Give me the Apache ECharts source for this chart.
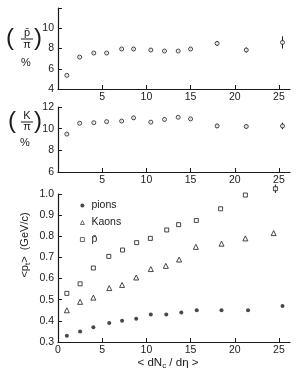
<!DOCTYPE html>
<html>
<head>
<meta charset="utf-8">
<script src="https://cdn.jsdelivr.net/npm/echarts@6/dist/echarts.min.js"></script>
<style>html,body{margin:0;padding:0;background:#fff}#c{width:301px;height:376px}</style>
</head>
<body>
<div id="c"></div>
<script>
// ---- data ----
const ratioX   = [1.0, 2.45, 4.05, 5.5, 7.2, 8.55, 10.5, 12.05, 13.6, 15.0, 18.0, 21.3, 25.4];
const pbarPi   = [5.35, 7.15, 7.55, 7.55, 7.95, 7.95, 7.85, 7.75, 7.75, 7.95, 8.5, 7.85, 8.6];
const pbarPiErr= [0.1, 0.1, 0.1, 0.1, 0.1, 0.15, 0.15, 0.1, 0.1, 0.1, 0.25, 0.25, 0.6];
const kPi      = [9.5, 10.5, 10.55, 10.65, 10.7, 11.0, 10.6, 10.85, 11.05, 10.9, 10.25, 10.2, 10.25];
const kPiErr   = [0.1, 0.1, 0.1, 0.1, 0.1, 0.15, 0.1, 0.1, 0.1, 0.1, 0.2, 0.2, 0.3];
const pionX    = [1.0, 2.5, 4.0, 5.8, 7.25, 8.85, 10.5, 12.25, 13.95, 15.7, 18.5, 21.5, 25.4];
const pionPt   = [0.33, 0.35, 0.37, 0.39, 0.40, 0.41, 0.43, 0.43, 0.44, 0.45, 0.45, 0.45, 0.47];
const kaonX    = [1.0, 2.5, 4.0, 5.8, 7.25, 8.85, 10.5, 12.2, 13.7, 15.6, 18.5, 21.2, 24.4];
const kaonPt   = [0.45, 0.49, 0.51, 0.555, 0.57, 0.605, 0.645, 0.66, 0.69, 0.75, 0.765, 0.79, 0.815];
const pbarX    = [1.0, 2.5, 4.0, 5.75, 7.3, 8.9, 10.45, 12.3, 13.65, 15.65, 18.4, 21.2, 24.6];
const pbarPt   = [0.53, 0.575, 0.65, 0.705, 0.735, 0.77, 0.79, 0.83, 0.855, 0.875, 0.93, 0.995, 1.025];
const pbarPtErr= [0, 0, 0, 0, 0, 0, 0, 0, 0, 0, 0, 0, 0.02];
const xTicks   = [5, 10, 15, 20, 25];
const xTicksB  = [0, 5, 10, 15, 20, 25];
const yTicksTop= [4, 6, 8, 10];
const yTicksMid= [6, 8, 10, 12];

const zip = (a, b) => a.map((v, i) => [v, b[i]]);
const zip3 = (a, b, c) => a.map((v, i) => [v, b[i], c[i]]);

const INK = '#1a1a1a';
const FONT = 'Liberation Sans';
const lab = { color: INK, fontSize: 10.5, fontFamily: FONT };

function xAxis(gi, labels) {
  return {
    type: 'value', gridIndex: gi, min: 0, max: 26.25, interval: 5,
    axisLine: { lineStyle: { color: INK, width: 1.2 } },
    axisTick: { inside: true, length: 4, customValues: xTicks, lineStyle: { color: INK } },
    axisLabel: Object.assign({ margin: 3, customValues: labels }, lab),
    splitLine: { show: false }
  };
}
function yAxis(gi, min, max, interval, labels, fmt) {
  return {
    type: 'value', gridIndex: gi, min, max, interval,
    axisLine: { show: true, lineStyle: { color: INK, width: 1.2 } },
    axisTick: { show: true, inside: true, length: 4, lineStyle: { color: INK } },
    axisLabel: Object.assign({ margin: 4, customValues: labels, formatter: fmt }, lab),
    splitLine: { show: false }
  };
}
function errBars(xi, yi, data) {
  return {
    type: 'custom', xAxisIndex: xi, yAxisIndex: yi, data, silent: true, z: 1,
    renderItem(params, api) {
      const x = api.value(0), y = api.value(1), e = api.value(2);
      if (!e) return null;
      const a = api.coord([x, y + e]), b = api.coord([x, y - e]);
      return { type: 'line', shape: { x1: a[0], y1: a[1], x2: b[0], y2: b[1] },
               style: { stroke: INK, lineWidth: 1 } };
    }
  };
}

const chart = echarts.init(document.getElementById('c'));
chart.setOption({
  animation: false,
  backgroundColor: '#fff',
  grid: [
    { left: 58, top: 8, width: 232, height: 81 },
    { left: 58, top: 107, width: 232, height: 65 },
    { left: 58, top: 194, width: 232, height: 148 }
  ],
  xAxis: [xAxis(0, xTicks), xAxis(1, xTicks), xAxis(2, xTicksB)],
  yAxis: [
    yAxis(0, 4, 12, 2, yTicksTop, v => String(v)),
    yAxis(1, 6, 12, 2, yTicksMid, v => String(v)),
    yAxis(2, 0.3, 1.0, 0.1, null, v => v.toFixed(1))
  ],
  legend: {
    orient: 'vertical', left: 75, top: 195, itemGap: 6, itemWidth: 4, itemHeight: 4,
    textStyle: { color: INK, fontSize: 10.5, fontFamily: FONT, padding: [0, 0, 0, 2] },
    data: [
      { name: 'pions', icon: 'circle', itemStyle: { color: INK } },
      { name: 'Kaons', icon: 'triangle', itemStyle: { color: '#fff', borderColor: INK, borderWidth: 0.8 } },
      { name: 'p\u0304', icon: 'rect', itemStyle: { color: '#fff', borderColor: INK, borderWidth: 0.8 } }
    ]
  },
  series: [
    errBars(0, 0, zip3(ratioX, pbarPi, pbarPiErr)),
    { type: 'scatter', xAxisIndex: 0, yAxisIndex: 0, data: zip(ratioX, pbarPi), symbol: 'circle', symbolSize: 4,
      itemStyle: { color: '#fff', borderColor: INK, borderWidth: 1 }, z: 2 },
    errBars(1, 1, zip3(ratioX, kPi, kPiErr)),
    { type: 'scatter', xAxisIndex: 1, yAxisIndex: 1, data: zip(ratioX, kPi), symbol: 'circle', symbolSize: 4,
      itemStyle: { color: '#fff', borderColor: INK, borderWidth: 1 }, z: 2 },
    { name: 'pions', type: 'scatter', xAxisIndex: 2, yAxisIndex: 2, data: zip(pionX, pionPt), symbol: 'circle', symbolSize: 4,
      itemStyle: { color: INK } },
    { name: 'Kaons', type: 'scatter', xAxisIndex: 2, yAxisIndex: 2, data: zip(kaonX, kaonPt), symbol: 'triangle', symbolSize: 5,
      itemStyle: { color: '#fff', borderColor: INK, borderWidth: 1 } },
    errBars(2, 2, zip3(pbarX, pbarPt, pbarPtErr)),
    { name: 'p\u0304', type: 'scatter', xAxisIndex: 2, yAxisIndex: 2, data: zip(pbarX, pbarPt), symbol: 'rect', symbolSize: 4,
      clip: false, itemStyle: { color: '#fff', borderColor: INK, borderWidth: 1 }, z: 2 }
  ],
  graphic: [
    // top y title (p̄/π) %
    { type: 'text', x: 10, y: 38, style: { text: '(', fontSize: 24, fill: INK, fontFamily: FONT, align: 'center', verticalAlign: 'middle' } },
    { type: 'text', x: 27, y: 33, style: { text: 'p\u0304', fontSize: 11, fill: INK, fontFamily: FONT, align: 'center', verticalAlign: 'middle' } },
    { type: 'line', shape: { x1: 21, y1: 39, x2: 33, y2: 39 }, style: { stroke: INK, lineWidth: 1 } },
    { type: 'text', x: 27, y: 45, style: { text: '\u03c0', fontSize: 11, fill: INK, fontFamily: FONT, align: 'center', verticalAlign: 'middle' } },
    { type: 'text', x: 38, y: 38, style: { text: ')', fontSize: 24, fill: INK, fontFamily: FONT, align: 'center', verticalAlign: 'middle' } },
    { type: 'text', x: 26, y: 63, style: { text: '%', fontSize: 11, fill: INK, fontFamily: FONT, align: 'center', verticalAlign: 'middle' } },
    // middle y title (K/π) %
    { type: 'text', x: 12, y: 121, style: { text: '(', fontSize: 24, fill: INK, fontFamily: FONT, align: 'center', verticalAlign: 'middle' } },
    { type: 'text', x: 27, y: 116, style: { text: 'K', fontSize: 11, fill: INK, fontFamily: FONT, align: 'center', verticalAlign: 'middle' } },
    { type: 'line', shape: { x1: 21, y1: 122, x2: 33, y2: 122 }, style: { stroke: INK, lineWidth: 1 } },
    { type: 'text', x: 27, y: 127, style: { text: '\u03c0', fontSize: 11, fill: INK, fontFamily: FONT, align: 'center', verticalAlign: 'middle' } },
    { type: 'text', x: 38, y: 121, style: { text: ')', fontSize: 24, fill: INK, fontFamily: FONT, align: 'center', verticalAlign: 'middle' } },
    { type: 'text', x: 25, y: 143, style: { text: '%', fontSize: 11, fill: INK, fontFamily: FONT, align: 'center', verticalAlign: 'middle' } },
    // bottom y title
    { type: 'text', x: 25, y: 245, rotation: Math.PI / 2,
      style: { text: '<p{s|t}>  (GeV/c)', fontSize: 11, fill: INK, fontFamily: FONT, align: 'center', verticalAlign: 'middle',
               rich: { s: { fontSize: 8, fill: INK, fontFamily: FONT, verticalAlign: 'bottom', padding: [5, 0, 0, 0] } } } },
    // x title
    { type: 'text', x: 168, y: 363,
      style: { text: '< dN{s|c} / d\u03b7 >', fontSize: 11.5, fill: INK, fontFamily: FONT, align: 'center', verticalAlign: 'middle',
               rich: { s: { fontSize: 8, fill: INK, fontFamily: FONT, padding: [5, 0, 0, 0] } } } }
  ]
});
</script>
</body>
</html>
